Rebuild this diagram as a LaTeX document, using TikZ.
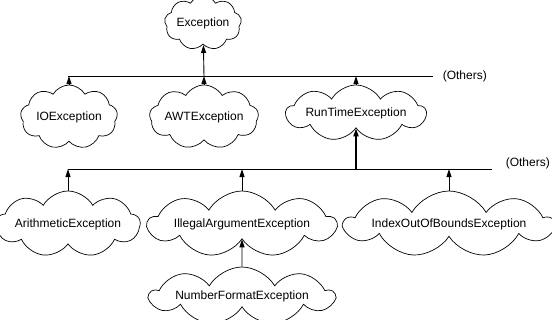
\documentclass[tikz,border=0pt]{standalone}
\usepackage{fontspec}
\setmainfont{Liberation Sans}
\usetikzlibrary{arrows.meta, positioning, shapes.symbols}

\begin{document}
\begin{tikzpicture}[x=1pt, y=-1pt,
    excloud/.style={draw, cloud, cloud puffs=9, cloud puff arc=120, cloud ignores aspect, line width=0.7pt, inner xsep=0pt, inner ysep=0pt, font=\fontsize{12}{14}\selectfont},
    inh/.style={-{Triangle[width=5pt,length=8pt]}, line width=0.9pt}]
    \useasboundingbox (0,0) rectangle (552,319);
    % Classes
    \node[excloud, minimum width=77, minimum height=54] (exc) at (203,23) {Exception};
    \node[excloud, minimum width=97, minimum height=64] (io) at (69,117) {IOException};
    \node[excloud, minimum width=109, minimum height=64] (awt) at (204,117) {AWTException};
    \node[excloud, minimum width=140, minimum height=56] (rte) at (356,113) {RunTimeException};
    \node[excloud, minimum width=133, minimum height=66] (arith) at (68,224) {ArithmeticException};
    \node[excloud, minimum width=188, minimum height=66] (illarg) at (242,224) {IllegalArgumentException};
    \node[excloud, minimum width=204, minimum height=66] (idx) at (449,224) {IndexOutOfBoundsException};
    \node[excloud, minimum width=184, minimum height=58] (numfmt) at (242,296) {NumberFormatException};

    % Buses
    \coordinate (busA) at (68,76);
    \coordinate (busAend) at (433,76);
    \coordinate (busB) at (68,169);
    \coordinate (busBend) at (492,169);
    \draw[line width=0.9pt] (busA) -- (busAend) node[right=6pt, font=\fontsize{12}{14}\selectfont] (othA) {(Others)};
    \draw[line width=0.9pt] (busB) -- (busBend) node[right=10pt, yshift=6pt, font=\fontsize{12}{14}\selectfont] (othB) {(Others)};

    % Inheritance
    \draw[inh] (awt |- busA) -- (exc);
    \draw[inh] (io) -- (io |- busA);
    \draw[inh] (awt) -- (awt |- busA);
    \draw[inh] (rte) -- (rte |- busA);
    \draw[inh, line width=1.8pt] (rte |- busB) -- (rte);
    \draw[inh] (arith) -- (arith |- busB);
    \draw[inh] (illarg) -- (illarg |- busB);
    \draw[inh] (idx) -- (idx |- busB);
    \draw[inh] (numfmt) -- (illarg);
\end{tikzpicture}
\end{document}
